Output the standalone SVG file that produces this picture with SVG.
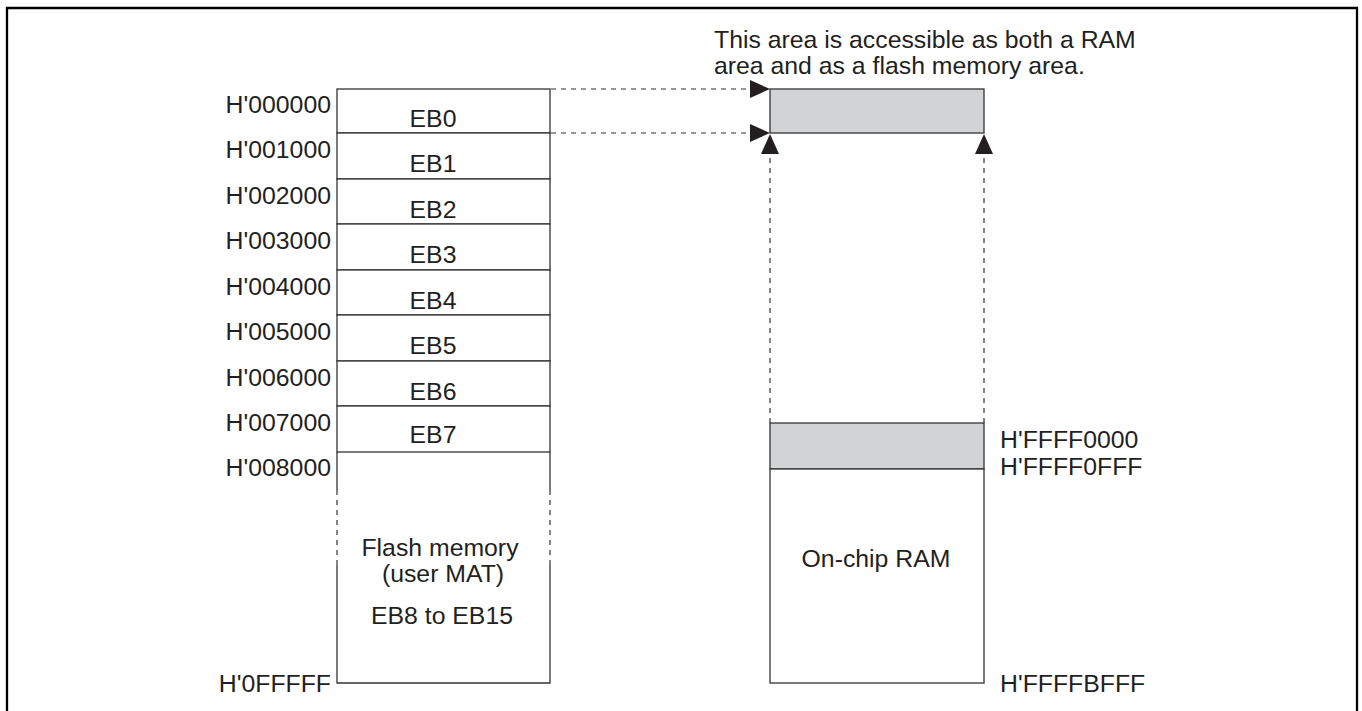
<svg xmlns="http://www.w3.org/2000/svg" width="1362" height="711" viewBox="0 0 1362 711">
<style>
text{font-family:"Liberation Sans",Arial,sans-serif;font-size:24.8px;fill:#231f20}
.r{text-anchor:end}
.m{text-anchor:middle}
.box{fill:#fff;stroke:#333;stroke-width:1.3}
.gray{fill:#d1d3d4;stroke:#333;stroke-width:1.3}
.ln{stroke:#333;stroke-width:1.3;fill:none}
.dash{stroke:#333;stroke-width:1.2;fill:none;stroke-dasharray:5,5}
</style>
<defs>
<marker id="ah" markerWidth="20" markerHeight="18" refX="20" refY="9" orient="auto" markerUnits="userSpaceOnUse">
<path d="M0,0 L20,9 L0,18 Z" fill="#231f20"/>
</marker>
</defs>
<rect x="0" y="0" width="1362" height="711" fill="#fff"/>
<path d="M7,711 V8 H1357 V711" fill="none" stroke="#000" stroke-width="2.3"/>

<g id="note">
<text x="714" y="48">This area is accessible as both a RAM</text>
<text x="714" y="74">area and as a flash memory area.</text>
</g>

<g id="flash">
<rect class="box" x="337" y="89" width="213" height="44"/>
<rect class="box" x="337" y="133" width="213" height="46"/>
<rect class="box" x="337" y="179" width="213" height="45"/>
<rect class="box" x="337" y="224" width="213" height="46"/>
<rect class="box" x="337" y="270" width="213" height="45"/>
<rect class="box" x="337" y="315" width="213" height="46"/>
<rect class="box" x="337" y="361" width="213" height="45"/>
<rect class="box" x="337" y="406" width="213" height="46"/>
<path class="ln" d="M337,452 V490 M550,452 V490 M337,565 V683 H550 V565"/>
<path class="dash" d="M337,490 V565 M550,490 V565"/>
<text class="m" x="433" y="127">EB0</text>
<text class="m" x="433" y="172">EB1</text>
<text class="m" x="433" y="218">EB2</text>
<text class="m" x="433" y="263">EB3</text>
<text class="m" x="433" y="309">EB4</text>
<text class="m" x="433" y="354">EB5</text>
<text class="m" x="433" y="400">EB6</text>
<text class="m" x="433" y="443">EB7</text>
<text class="m" x="440" y="556">Flash memory</text>
<text class="m" x="443" y="582">(user MAT)</text>
<text class="m" x="442" y="624">EB8 to EB15</text>
</g>

<g id="flash-addresses">
<text class="r" x="331" y="113">H'000000</text>
<text class="r" x="331" y="158">H'001000</text>
<text class="r" x="331" y="204">H'002000</text>
<text class="r" x="331" y="249">H'003000</text>
<text class="r" x="331" y="295">H'004000</text>
<text class="r" x="331" y="340">H'005000</text>
<text class="r" x="331" y="386">H'006000</text>
<text class="r" x="331" y="431">H'007000</text>
<text class="r" x="331" y="476">H'008000</text>
<text class="r" x="331" y="692">H'0FFFFF</text>
</g>

<g id="shared-area">
<rect class="gray" x="770" y="89" width="214" height="44"/>
</g>

<g id="ram">
<rect class="gray" x="770" y="423" width="214" height="46"/>
<rect class="box" x="770" y="469" width="214" height="214"/>
<text class="m" x="876" y="567">On-chip RAM</text>
<text x="1000" y="448">H'FFFF0000</text>
<text x="1000" y="475">H'FFFF0FFF</text>
<text x="1000" y="692">H'FFFFBFFF</text>
</g>

<g id="connectors">
<path class="dash" d="M551,89 H770" marker-end="url(#ah)"/>
<path class="dash" d="M551,133 H770" marker-end="url(#ah)"/>
<path class="dash" d="M770,423 V134" marker-end="url(#ah)"/>
<path class="dash" d="M984,423 V134" marker-end="url(#ah)"/>
</g>
</svg>
